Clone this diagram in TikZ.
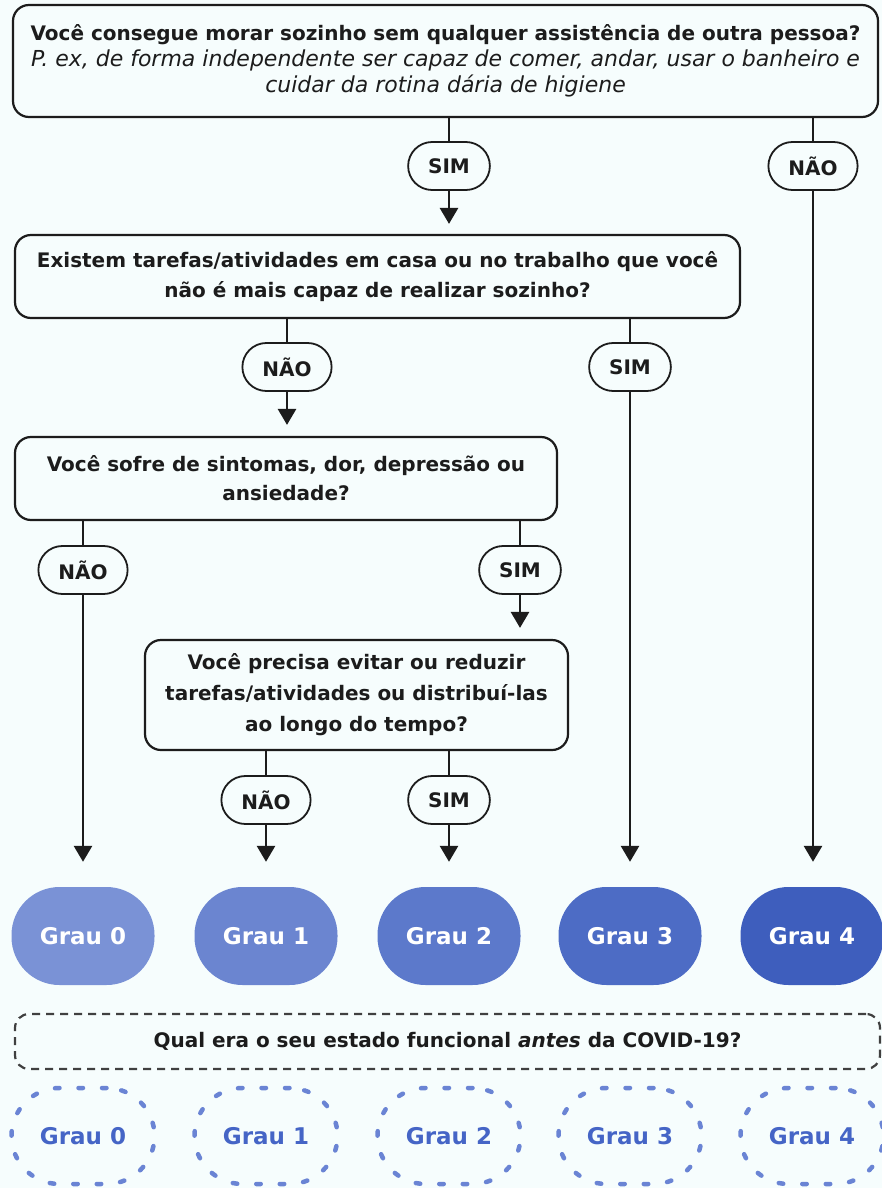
\documentclass[tikz,border=0pt]{standalone}
\usepackage{fontspec}
\setmainfont{DejaVu Sans}
\usetikzlibrary{arrows.meta}
\definecolor{bg}{HTML}{F6FDFD}
\definecolor{ink}{HTML}{1C1C1C}
\definecolor{gzero}{HTML}{7A92D6}
\definecolor{gone}{HTML}{6B85D0}
\definecolor{gtwo}{HTML}{5C79CB}
\definecolor{gthree}{HTML}{4D6CC5}
\definecolor{gfour}{HTML}{3E5EBD}
\definecolor{dotblue}{HTML}{6A84D4}
\definecolor{txtblue}{HTML}{4565C6}
\definecolor{dashgray}{HTML}{404040}
\tikzset{
  qbox/.style={draw=ink, line width=2.2pt, rounded corners=16pt, align=center, text=ink,
    inner sep=0pt, font=\fontsize{20}{29}\selectfont},
  pill/.style={draw=ink, line width=1.8pt, rounded corners=24pt, minimum height=48pt,
    inner xsep=20pt, inner ysep=0pt, text=ink, font=\bfseries\fontsize{20}{24}\selectfont},
  conn/.style={draw=ink, line width=2.8pt},
  arr/.style={conn, -{Triangle[width=18pt,length=16pt]}},
  grau/.style={rounded corners=48pt, minimum width=143pt, minimum height=98pt, inner sep=0pt,
    text=white, font=\bfseries\fontsize{23}{28}\selectfont},
  dgrau/.style={draw=dotblue, line width=4.5pt, line cap=round, dash pattern=on 4.5pt off 19pt,
    rounded corners=48pt, minimum width=143pt, minimum height=96pt, inner sep=0pt,
    text=txtblue, font=\bfseries\fontsize{23}{28}\selectfont},
  dbox/.style={draw=dashgray, line width=2.2pt, dash pattern=on 8pt off 6pt, rounded corners=14pt,
    minimum width=865pt, minimum height=55pt, inner sep=0pt, text=ink,
    font=\bfseries\fontsize{20}{24}\selectfont}
}
\begin{document}
\begin{tikzpicture}[x=1pt,y=-1pt]
\fill[bg] (0,0) rectangle (882,1188);
\useasboundingbox (0,0) rectangle (882,1188);

% questions
\node[qbox, minimum width=865pt, minimum height=112pt] (q1) at (445.5,61)
  {{\bfseries Você consegue morar sozinho sem qualquer assistência de outra pessoa?}\\[-3pt]
   {\itshape\fontsize{22}{26}\selectfont P. ex, de forma independente ser capaz de comer, andar, usar o banheiro e}\\[-3pt]
   {\itshape\fontsize{22}{26}\selectfont cuidar da rotina dária de higiene}};
\node[qbox, font=\bfseries\fontsize{20}{30}\selectfont, minimum width=725pt, minimum height=83pt] (q2) at (377.5,276.5)
  {Existem tarefas/atividades em casa ou no trabalho que você\\ não é mais capaz de realizar sozinho?};
\node[qbox, font=\bfseries\fontsize{20}{29}\selectfont, minimum width=542pt, minimum height=83pt] (q3) at (286,478.5)
  {Você sofre de sintomas, dor, depressão ou\\ ansiedade?};
\node[qbox, font=\bfseries\fontsize{20}{31}\selectfont, minimum width=423pt, minimum height=110pt] (q4) at (356.5,695)
  {Você precisa evitar ou reduzir\\ tarefas/atividades ou distribuí-las\\ ao longo do tempo?};

% answer pills
\node[pill] (p1) at (449,166) {SIM};
\node[pill] (p2) at (813,166) {NÃO};
\node[pill] (p3) at (287,367) {NÃO};
\node[pill] (p4) at (630,367) {SIM};
\node[pill] (p5) at (83,570) {NÃO};
\node[pill] (p6) at (520,570) {SIM};
\node[pill] (p7) at (266,800) {NÃO};
\node[pill] (p8) at (449,800) {SIM};

% grades
\node[grau, fill=gzero]  (g0) at (83,936)  {Grau 0};
\node[grau, fill=gone]   (g1) at (266,936) {Grau 1};
\node[grau, fill=gtwo]   (g2) at (449,936) {Grau 2};
\node[grau, fill=gthree] (g3) at (630,936) {Grau 3};
\node[grau, fill=gfour]  (g4) at (812,936) {Grau 4};

% before covid
\node[dbox] (pre) at (447.5,1041.5) {Qual era o seu estado funcional {\itshape antes} da COVID-19?};
\node[dgrau] (d0) at (83,1136)  {Grau 0};
\node[dgrau] (d1) at (266,1136) {Grau 1};
\node[dgrau] (d2) at (449,1136) {Grau 2};
\node[dgrau] (d3) at (630,1136) {Grau 3};
\node[dgrau] (d4) at (812,1136) {Grau 4};

% connectors
\draw[conn] (q1.south -| p1.north) -- (p1.north);
\draw[arr, shorten >=10pt] (p1.south) -- (q2.north -| p1.south);
\draw[conn] (q1.south -| p2.north) -- (p2.north);
\draw[arr, shorten >=25pt] (p2.south) -- (g4.north -| p2.south);

\draw[conn] (q2.south -| p3.north) -- (p3.north);
\draw[arr, shorten >=11pt] (p3.south) -- (q3.north -| p3.south);
\draw[conn] (q2.south -| p4.north) -- (p4.north);
\draw[arr, shorten >=25pt] (p4.south) -- (g3.north -| p4.south);

\draw[conn] (q3.south -| p5.north) -- (p5.north);
\draw[arr, shorten >=25pt] (p5.south) -- (g0.north -| p5.south);
\draw[conn] (q3.south -| p6.north) -- (p6.north);
\draw[arr, shorten >=11pt] (p6.south) -- (q4.north -| p6.south);

\draw[conn] (q4.south -| p7.north) -- (p7.north);
\draw[arr, shorten >=25pt] (p7.south) -- (g1.north -| p7.south);
\draw[conn] (q4.south -| p8.north) -- (p8.north);
\draw[arr, shorten >=25pt] (p8.south) -- (g2.north -| p8.south);
\end{tikzpicture}
\end{document}
